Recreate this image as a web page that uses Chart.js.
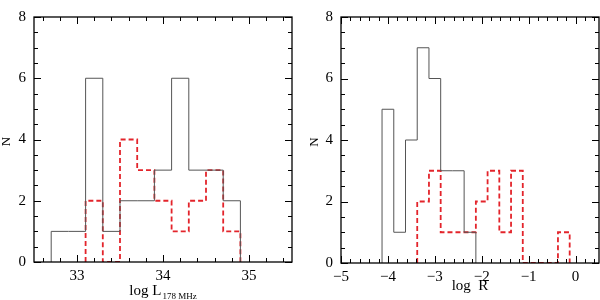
<!DOCTYPE html>
<html>
<head>
<meta charset="utf-8">
<script src="https://cdn.jsdelivr.net/npm/chart.js@4.4.0/dist/chart.umd.min.js"></script>
<style>
body { margin: 0; background: #fff; }
#wrap { display: flex; width: 600px; height: 300px; }
.box { position: relative; width: 300px; height: 300px; }
</style>
</head>
<body>
<div id="wrap">
  <div class="box"><canvas id="leftChart"></canvas></div>
  <div class="box"><canvas id="rightChart"></canvas></div>
</div>
<script>
// left panel: log L178MHz histogram, bins of 0.2
const lumBinWidth = 0.2;
const lumAllStart = 32.7;
const lumAll = [1, 1, 6, 1, 2, 2, 3, 6, 3, 3, 2];
const lumSubStart = 33.1;
const lumSub = [2, 0, 4, 3, 2, 1, 2, 3, 1];
const lumTicks = [33, 34, 35];

// right panel: log R histogram, bins of 0.25
const rBinWidth = 0.25;
const rAllStart = -4.125;
const rAll = [5, 1, 4, 7, 6, 3, 3, 1];
const rSubStart = -3.375;
const rSub = [2, 3, 1, 1, 1, 2, 3, 1, 3, 0, 0, 0, 1];
const rTicks = [-5, -4, -3, -2, -1, 0];

const nTicks = [0, 2, 4, 6, 8];

const serif = "'Liberation Serif', 'DejaVu Serif', serif";

// turn bin counts into the outline of a step histogram
function stepPoints(start, width, counts) {
    const pts = [{x: start, y: 0}];
    counts.forEach((c, i) => {
        pts.push({x: start + i * width, y: c});
    });
    pts.push({x: start + counts.length * width, y: 0});
    return pts;
}

function fmt(v) {
    return v < 0 ? '\u2212' + Math.abs(v) : String(v);
}

// frame with inward ticks on all four sides + axis titles
const framePlugin = {
    id: 'frame',
    afterDatasetsDraw(chart, args, opts) {
        const ctx = chart.ctx;
        const a = chart.chartArea;
        const xs = chart.scales.x;
        const ys = chart.scales.y;
        ctx.save();
        ctx.strokeStyle = '#000';
        ctx.lineWidth = 1;
        ctx.beginPath();

        let i0 = Math.ceil(xs.min / opts.xMinor - 1e-6);
        let i1 = Math.floor(xs.max / opts.xMinor + 1e-6);
        for (let i = i0; i <= i1; i++) {
            const v = i * opts.xMinor;
            const major = Math.abs(v / opts.xMajor - Math.round(v / opts.xMajor)) < 1e-6;
            const len = major ? 7 : 4;
            const px = Math.round(xs.getPixelForValue(v)) + 0.5;
            ctx.moveTo(px, a.bottom); ctx.lineTo(px, a.bottom - len);
            ctx.moveTo(px, a.top); ctx.lineTo(px, a.top + len);
        }
        i0 = Math.ceil(ys.min / opts.yMinor - 1e-6);
        i1 = Math.floor(ys.max / opts.yMinor + 1e-6);
        for (let i = i0; i <= i1; i++) {
            const v = i * opts.yMinor;
            const major = Math.abs(v / opts.yMajor - Math.round(v / opts.yMajor)) < 1e-6;
            const len = major ? 7 : 4;
            const py = Math.round(ys.getPixelForValue(v)) + 0.5;
            ctx.moveTo(a.left, py); ctx.lineTo(a.left + len, py);
            ctx.moveTo(a.right, py); ctx.lineTo(a.right - len, py);
        }
        ctx.stroke();

        ctx.lineWidth = 1.3;
        ctx.strokeRect(a.left, a.top, a.right - a.left, a.bottom - a.top);

        // y title
        ctx.fillStyle = '#000';
        ctx.font = '13px ' + serif;
        ctx.textAlign = 'center';
        ctx.textBaseline = 'middle';
        ctx.save();
        ctx.translate(opts.yTitleX, (a.top + a.bottom) / 2 + 2);
        ctx.rotate(-Math.PI / 2);
        ctx.fillText('N', 0, 0);
        ctx.restore();

        // x title with optional subscript
        ctx.textBaseline = 'alphabetic';
        ctx.textAlign = 'left';
        ctx.font = '15px ' + serif;
        const mainW = ctx.measureText(opts.xTitle).width;
        let subW = 0;
        if (opts.xSub) {
            ctx.font = '9px ' + serif;
            subW = ctx.measureText(opts.xSub).width + 1;
        }
        let x = (a.left + a.right) / 2 - (mainW + subW) / 2;
        ctx.font = '15px ' + serif;
        ctx.fillText(opts.xTitle, x, opts.xTitleY);
        if (opts.xSub) {
            ctx.font = '9px ' + serif;
            ctx.fillText(opts.xSub, x + mainW + 1, opts.xTitleY + 4);
        }
        ctx.restore();
    }
};

function makeChart(id, cfg) {
    return new Chart(document.getElementById(id), {
        type: 'line',
        data: {
            datasets: [
                {
                    data: stepPoints(cfg.allStart, cfg.width, cfg.all),
                    stepped: 'before',
                    borderColor: '#555',
                    borderWidth: 1,
                    pointRadius: 0,
                    fill: false
                },
                {
                    data: stepPoints(cfg.subStart, cfg.width, cfg.sub),
                    stepped: 'before',
                    borderColor: '#e3242b',
                    borderWidth: 1.8,
                    borderDash: [5, 3],
                    pointRadius: 0,
                    fill: false
                }
            ]
        },
        options: {
            responsive: true,
            maintainAspectRatio: false,
            animation: false,
            layout: { padding: { top: 10, right: cfg.padRight, left: 0, bottom: 0 } },
            plugins: {
                legend: { display: false },
                tooltip: { enabled: false },
                frame: cfg.frame
            },
            scales: {
                x: {
                    type: 'linear',
                    min: cfg.xMin,
                    max: cfg.xMax,
                    grid: { display: false, drawTicks: false },
                    border: { display: false },
                    afterBuildTicks: s => { s.ticks = cfg.ticks.map(v => ({value: v})); },
                    afterFit: s => { s.height = cfg.xHeight; },
                    ticks: {
                        padding: 5,
                        color: '#000',
                        font: { family: serif, size: 15 },
                        maxRotation: 0,
                        autoSkip: false,
                        callback: v => fmt(v)
                    }
                },
                y: {
                    min: 0,
                    max: 8,
                    grid: { display: false, drawTicks: false },
                    border: { display: false },
                    afterBuildTicks: s => { s.ticks = nTicks.map(v => ({value: v})); },
                    afterFit: s => { s.width = cfg.yWidth; },
                    ticks: {
                        padding: 8,
                        color: '#000',
                        font: { family: serif, size: 15 },
                        callback: v => fmt(v)
                    }
                }
            }
        },
        plugins: [framePlugin]
    });
}

makeChart('leftChart', {
    allStart: lumAllStart, subStart: lumSubStart, width: lumBinWidth,
    all: lumAll, sub: lumSub, ticks: lumTicks,
    xMin: 32.5, xMax: 35.5, yWidth: 34, xHeight: 38, padRight: 8,
    frame: { xMinor: 0.2, xMajor: 1, yMinor: 0.5, yMajor: 2,
             yTitleX: 7, xTitle: 'log L', xSub: '178 MHz', xTitleY: 295 }
});

makeChart('rightChart', {
    allStart: rAllStart, subStart: rSubStart, width: rBinWidth,
    all: rAll, sub: rSub, ticks: rTicks,
    xMin: -5, xMax: 0.5, yWidth: 41, xHeight: 37, padRight: 1,
    frame: { xMinor: 0.2, xMajor: 1, yMinor: 0.5, yMajor: 2,
             yTitleX: 15, xTitle: 'log  R', xSub: '', xTitleY: 290 }
});
</script>
</body>
</html>
